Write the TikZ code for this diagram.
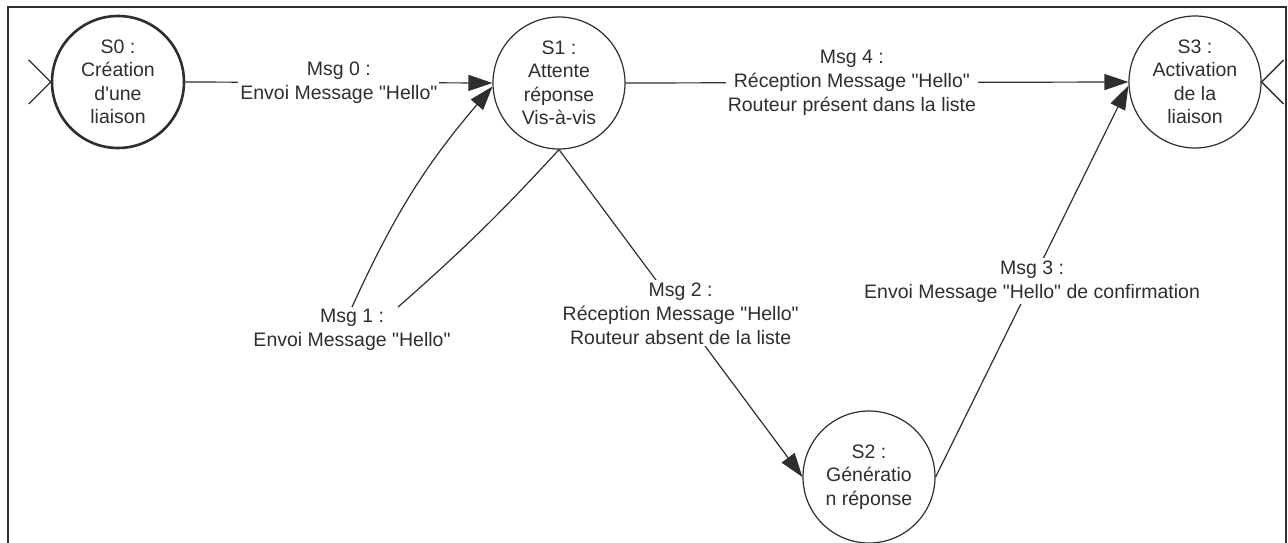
\documentclass[tikz,border=0pt]{standalone}
\usepackage{fontspec}
\setmainfont{Liberation Sans}
\usetikzlibrary{arrows.meta}
\definecolor{ink}{HTML}{2E2E2E}
% straight double quotes around a word
\newcommand\quoted[1]{\textquotedbl #1\textquotedbl}
\begin{document}
\begin{tikzpicture}[x=1pt,y=-1pt,
  every node/.style={text=ink},
  state/.style={circle, draw=ink, line width=1.2pt, minimum size=132pt, inner sep=0pt,
    align=center, font=\fontsize{19.5}{23.5}\selectfont},
  startstate/.style={state, line width=2.6pt},
  msg/.style={fill=white, inner sep=2pt, align=center, font=\fontsize{19.5}{24}\selectfont},
  link/.style={draw=ink, line width=1.2pt},
  arrow/.style={link, -{Triangle[length=24pt,width=16pt]}},
  term/.style={draw=ink, line width=1.3pt},
  frame/.style={draw=ink, line width=2pt}]
\useasboundingbox (0,0) rectangle (1288,543);

% outer frame, open at the bottom
\draw[frame] (8,543) -- (8,7) -- (1286,7) -- (1286,543);

% states
\node[startstate] (S0) at (118,82)  {S0 :\\Création\\d\textquotesingle une\\liaison};
\node[state]      (S1) at (559,83)  {S1 :\\Attente\\réponse\\Vis-à-vis};
\node[state]      (S2) at (869,477) {S2 :\\Génératio\\n réponse};
\node[state]      (S3) at (1195,82) {S3 :\\Activation\\de la\\liaison};

% entry and exit marks
\draw[term] ([shift={(-22,-22)}]S0.west) -- (S0.west) -- ([shift={(-22,22)}]S0.west);
\draw[term] ([shift={(22,-22)}]S3.east) -- (S3.east) -- ([shift={(22,22)}]S3.east);

% transitions
\draw[arrow] (S0.east) -- node[msg, pos=0.5] {Msg 0 :\\Envoi Message \quoted{Hello}} (S1.west);

\node[msg] (L1) at (352,330) {Msg 1 :\\Envoi Message \quoted{Hello}};
\draw[link] (S1.south) to[bend left=3] ([xshift=46pt]L1.north);
\draw[arrow] (L1.north) to[bend left=8] (S1.183);

\draw[arrow] (S1.south) -- node[msg, pos=0.5]
  {Msg 2 :\\Réception Message \quoted{Hello}\\Routeur absent de la liste} (S2.west);

\draw[arrow] (S2.east) -- node[msg, pos=0.5]
  {Msg 3 :\\Envoi Message \quoted{Hello} de confirmation} (S3.183);

\draw[arrow] (S1.east) -- node[msg, pos=0.45]
  {Msg 4 :\\Réception Message \quoted{Hello}\\Routeur présent dans la liste} (S3.west);
\end{tikzpicture}
\end{document}
